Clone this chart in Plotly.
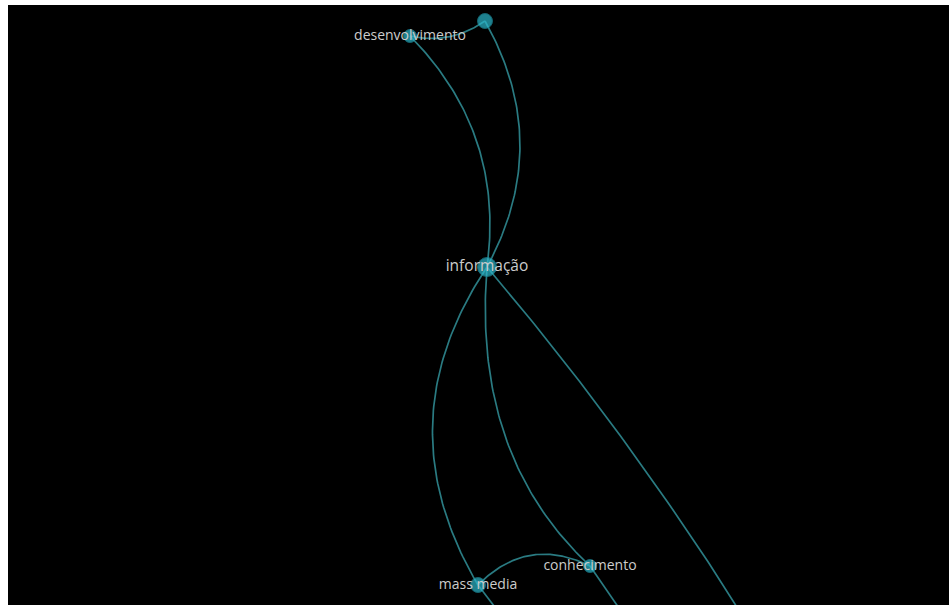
import numpy as np
import plotly.graph_objects as go

# ---- data ----
node_ids = ["desenvolvimento", "n_top", "informação", "conhecimento", "mass media", "n_s", "n_r", "n_t"]
node_labels = ["desenvolvimento", "", "informação", "conhecimento", "mass media", "", "", ""]
node_x = [410, 485, 487, 590, 478, 520, 641, 770]
node_y = [36, 21, 267, 566, 585, 640, 640, 660]
node_weight = [13, 15, 19, 13, 15, 12, 12, 12]

edge_source = ["desenvolvimento", "n_top", "informação", "mass media", "informação", "conhecimento", "informação", "mass media", "desenvolvimento"]
edge_target = ["informação", "informação", "mass media", "n_s", "conhecimento", "n_r", "n_t", "conhecimento", "n_top"]
edge_bend = [0.246, 0.276, -0.314, 0.0, -0.24, 0.0, 0.04, 0.36, -0.22]
edge_skew = [0.5, 0.5, 0.5, 0.5, 0.55, 0.5, 0.5, 0.5, 0.5]

# ---- build ----
pos = {n: (x, y) for n, x, y in zip(node_ids, node_x, node_y)}
t = np.linspace(0, 1, 80)

fig = go.Figure()
for s, e, b, k in zip(edge_source, edge_target, edge_bend, edge_skew):
    p0 = np.array(pos[s], float)
    p2 = np.array(pos[e], float)
    d = p2 - p0
    L = np.hypot(*d)
    perp = np.array([d[1], -d[0]]) / L
    c = p0 + k * d + b * L * perp
    pts = ((1 - t) ** 2)[:, None] * p0 + (2 * (1 - t) * t)[:, None] * c + (t ** 2)[:, None] * p2
    fig.add_trace(go.Scatter(x=pts[:, 0], y=pts[:, 1], mode="lines",
                             line=dict(color="#2a7b82", width=1.7),
                             hoverinfo="skip", showlegend=False))

label_sizes = [15.5 if lab == "informação" else 14 for lab in node_labels]
fig.add_trace(go.Scatter(
    x=node_x, y=node_y, mode="markers+text", text=node_labels,
    textposition="middle center",
    textfont=dict(family="Open Sans", size=label_sizes, color="#cccccc"),
    marker=dict(size=node_weight, color="#2cb8cc",
                line=dict(width=1, color="#1d8fa0")),
    showlegend=False, hoverinfo="text"))

fig.update_layout(
    width=949, height=605,
    margin=dict(l=8, r=0, t=5, b=0),
    paper_bgcolor="white", plot_bgcolor="black",
    xaxis=dict(range=[8, 949], visible=False, fixedrange=True),
    yaxis=dict(range=[605, 5], visible=False, fixedrange=True),
)
fig.write_html("out.html", config={"displayModeBar": False},
               post_script="document.body.style.margin='0px';")
